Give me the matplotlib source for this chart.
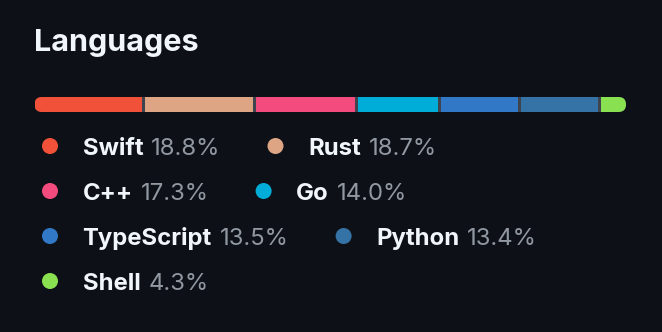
import matplotlib
matplotlib.use('Agg')
import matplotlib.pyplot as plt
from matplotlib.patches import Circle, FancyBboxPatch
import numpy as np

# ---- data ----
title = 'Languages'
languages = ['Swift', 'Rust', 'C++', 'Go', 'TypeScript', 'Python', 'Shell']
percentages = [18.8, 18.7, 17.3, 14.0, 13.5, 13.4, 4.3]
colors = ['#F05138', '#dea584', '#f34b7d', '#00ADD8', '#3178c6', '#3572A5', '#89e051']

# ---- style ----
W, H = 662, 332
BG = '#0d1117'
FG = '#f0f6fc'
MUTED = '#9198a1'
SEP = '#3d444d'
FONT = ['Inter', 'DejaVu Sans']

fig = plt.figure(figsize=(W / 100, H / 100), dpi=100, facecolor=BG)
ax = fig.add_axes([0, 0, 1, 1])
ax.set_xlim(0, W)
ax.set_ylim(H, 0)
ax.axis('off')

ax.text(33.5, 51, title, fontsize=22, fontweight='bold', color=FG,
        family=FONT, va='baseline', ha='left')

# ---- stacked bar ----
n = len(percentages)
bar_left, bar_right, bar_top, bar_bot = 34.5, 626, 97, 112
gap_px = 3
seg_px = (bar_right - bar_left) - gap_px * (n - 1)
gap = gap_px / seg_px * sum(percentages)
total = sum(percentages) + gap * (n - 1)

bax = fig.add_axes([bar_left / W, 1 - bar_bot / H,
                    (bar_right - bar_left) / W, (bar_bot - bar_top) / H])
bax.set_xlim(0, total)
bax.set_ylim(0, 1)
bax.axis('off')

clip = FancyBboxPatch((bar_left, bar_top), bar_right - bar_left, bar_bot - bar_top,
                      boxstyle='round,pad=0,rounding_size=7.5',
                      transform=ax.transData, facecolor='none', edgecolor='none')

bg = bax.barh(0.5, total, left=0, height=1.0, color=SEP, linewidth=0)
lefts = np.concatenate([[0], np.cumsum(percentages)[:-1]]) + gap * np.arange(n)
bars = bax.barh(0.5, percentages, left=lefts, height=1.0, color=colors, linewidth=0)
for p in list(bg) + list(bars):
    p.set_clip_path(clip)

# ---- legend (flow layout) ----
fig.canvas.draw()
renderer = fig.canvas.get_renderer()
LFS = 17.2
x0 = 42
x = x0
row = 0
y0, dy = 146, 45
limit = 626
r = 8
pad = 24.5
for name, pct, c in zip(languages, percentages, colors):
    tn = ax.text(0, 0, name, fontsize=LFS, fontweight='bold', color=FG,
                 family=FONT, va='baseline', ha='left')
    tp = ax.text(0, 0, f'{pct:.1f}%', fontsize=LFS, color=MUTED,
                 family=FONT, va='baseline', ha='left')
    wn = tn.get_window_extent(renderer).width
    wp = tp.get_window_extent(renderer).width
    item_w = 2 * r + pad + wn + 8 + wp
    if x > x0 and x + item_w > limit:
        row += 1
        x = x0
    y = y0 + row * dy
    ax.add_patch(Circle((x + r, y), r, color=c, linewidth=0))
    tn.set_position((x + 2 * r + pad, y + 9))
    tp.set_position((x + 2 * r + pad + wn + 8, y + 9))
    x += item_w + 47

fig.savefig('out.png', dpi=100, facecolor=BG)
